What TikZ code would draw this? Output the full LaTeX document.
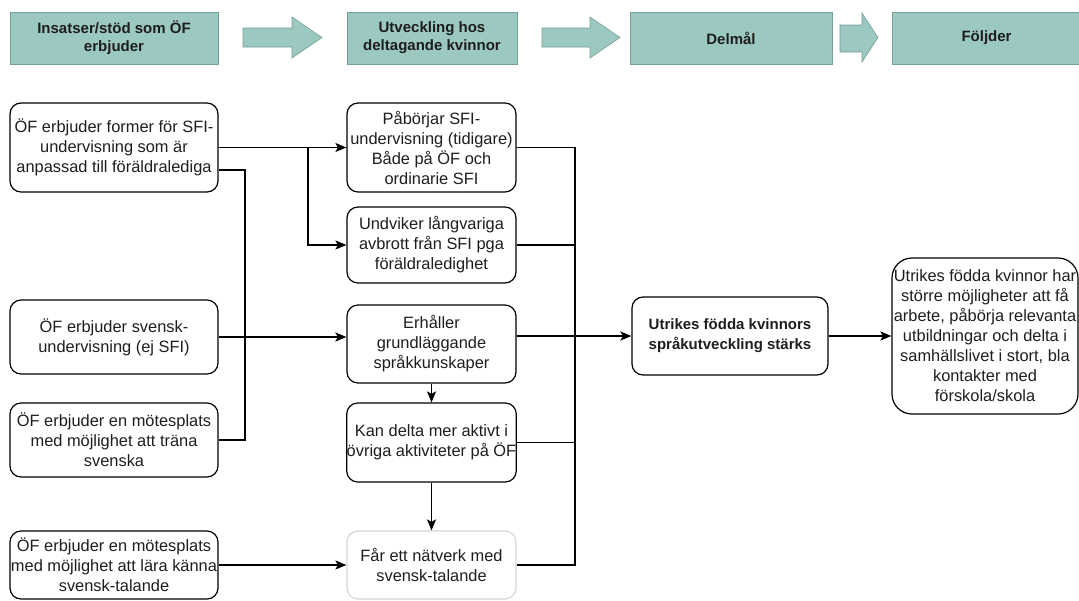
\documentclass[tikz,border=0pt]{standalone}
\usepackage{fontspec}
\setmainfont{Liberation Sans}
\usetikzlibrary{arrows.meta}

\definecolor{hdrfill}{RGB}{155,200,192}
\definecolor{hdrline}{RGB}{118,160,150}
\definecolor{txt}{RGB}{30,30,30}
\definecolor{softline}{RGB}{215,215,215}

\begin{document}
\begin{tikzpicture}[x=1pt, y=-1pt,
    hdr/.style={draw=hdrline, fill=hdrfill, line width=0.8pt, minimum height=52pt, align=center, inner sep=0pt, text=txt, font=\fontsize{15}{18}\selectfont\bfseries},
    hdrarrow/.style={draw=hdrline, fill=hdrfill, line width=0.6pt},
    box/.style={draw, rounded corners=11pt, line width=1.2pt, align=center, inner sep=0pt, text=txt, font=\fontsize{16.4}{20}\selectfont},
    wire/.style={line width=1.2pt},
    fat/.style={line width=2.6pt},
    arr/.style={-{Stealth[length=11pt, width=9pt, inset=2.5pt]}}]
    \path[use as bounding box, fill=white] (0,0) rectangle (1079,600);

    \node[hdr, minimum width=208pt] (h1) at (114,38) {Insatser/stöd som ÖF\\erbjuder};
    \node[hdr, minimum width=170pt] (h2) at (432,38) {Utveckling hos\\deltagande kvinnor};
    \node[hdr, minimum width=202pt] (h3) at (731,38) {Delmål};
    \node[hdr, minimum width=189pt] (h4) at (986.5,38) {Följder};

    \filldraw[hdrarrow] (243,28) -- (292,28) -- (292,17) -- (322,37.5) -- (292,58) -- (292,47) -- (243,47) -- cycle;
    \filldraw[hdrarrow] (542,28) -- (590,28) -- (590,17) -- (620,37.5) -- (590,58) -- (590,47) -- (542,47) -- cycle;
    \filldraw[hdrarrow] (840,25) -- (862,25) -- (862,13) -- (878,37.5) -- (862,62) -- (862,52) -- (840,52) -- cycle;

    \node[box, minimum width=208pt, minimum height=89pt] (a1) at (114,147.5) {ÖF erbjuder former för SFI-\\undervisning som är\\anpassad till föräldralediga};
    \node[box, minimum width=208pt, minimum height=74pt] (a2) at (114,337) {ÖF erbjuder svensk-\\undervisning (ej SFI)};
    \node[box, minimum width=208pt, minimum height=74pt] (a3) at (114,440) {ÖF erbjuder en mötesplats\\med möjlighet att träna\\svenska};
    \node[box, minimum width=208pt, minimum height=68pt] (a4) at (114,565) {ÖF erbjuder en mötesplats\\med möjlighet att lära känna\\svensk-talande};

    \node[box, minimum width=169pt, minimum height=89pt] (b1) at (431.5,147.5) {Påbörjar SFI-\\undervisning (tidigare)\\Både på ÖF och\\ordinarie SFI};
    \node[box, minimum width=169pt, minimum height=76pt] (b2) at (431.5,245) {Undviker långvariga\\avbrott från SFI pga\\föräldraledighet};
    \node[box, minimum width=169pt, minimum height=78pt] (b3) at (431.5,344) {Erhåller\\grundläggande\\språkkunskaper};
    \node[box, minimum width=169pt, minimum height=79pt] (b4) at (431.5,442.5) {Kan delta mer aktivt i\\övriga aktiviteter på ÖF};
    \node[box, draw=softline, minimum width=169pt, minimum height=68pt] (b5) at (431.5,565) {Får ett nätverk med\\svensk-talande};

    \node[box, minimum width=196pt, minimum height=78pt, font=\fontsize{15}{20}\selectfont\bfseries] (c1) at (730,336) {Utrikes födda kvinnors\\språkutveckling stärks};
    \node[box, rounded corners=20pt, minimum width=186pt, minimum height=156pt] (d1) at (985,336) {Utrikes födda kvinnor har\\större möjligheter att få\\arbete, påbörja relevanta\\utbildningar och delta i\\samhällslivet i stort, bla\\kontakter med\\förskola/skola};

    \coordinate (j1) at (308,147.5);
    \coordinate (j2) at (245,337);
    \coordinate (j3) at (283,337);
    \coordinate (j4) at (575,336);

    \draw[wire, arr] (a1) -- (b1);
    \draw[wire, arr] (j1) |- (b2);
    \draw[wire] ([yshift=-22.5pt]a1.east) -| (j2);
    \draw[wire] (a3) -| (j2);
    \draw[wire] (a2) -- (j3);
    \draw[fat, arr] (j3) -- (j3 -| b3.west);
    \draw[wire, arr] (b3) -- (b4);
    \draw[wire, arr] (b4) -- (b5);
    \draw[wire, arr] (a4) -- (b5);

    \draw[wire] (b1) -| (j4);
    \draw[wire] (b5) -| (j4);
    \draw[wire] (b2) -- (b2 -| j4);
    \draw[wire] (b4) -- (b4 -| j4);
    \draw[wire] (j4 -| b3.east) -- (j4);
    \draw[fat, arr] (j4) -- (c1);
    \draw[wire, arr] (c1) -- (d1);
\end{tikzpicture}
\end{document}
